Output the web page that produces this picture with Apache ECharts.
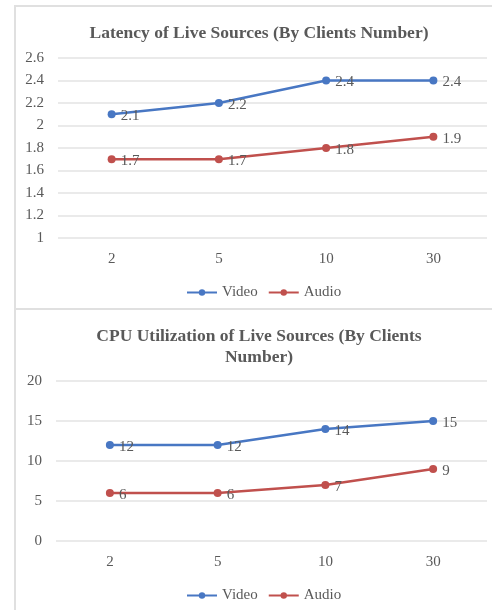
<!DOCTYPE html>
<html>
<head>
<meta charset="utf-8">
<script src="https://cdn.jsdelivr.net/npm/echarts@6/dist/echarts.min.js"></script>
<style>
html,body{margin:0;padding:0;background:#fff;}
#c{width:492px;height:610px;}
</style>
</head>
<body>
<div id="c"></div>
<script>
const categories = ['2', '5', '10', '30'];
const latencyVideo = [2.1, 2.2, 2.4, 2.4];
const latencyAudio = [1.7, 1.7, 1.8, 1.9];
const cpuVideo = [12, 12, 14, 15];
const cpuAudio = [6, 6, 7, 9];
const title1 = 'Latency of Live Sources (By Clients Number)';
const title2 = 'CPU Utilization of Live Sources (By Clients\nNumber)';
const seriesNames = ['Video', 'Audio'];

const FONT = '"Liberation Serif", "DejaVu Serif", serif';
const GRAY = '#595959';
const BLUE = '#4877C3';
const RED = '#C0504D';

const chart = echarts.init(document.getElementById('c'), null, {renderer: 'canvas'});

function lineSeries(name, data, color, xi, yi) {
  return {
    name: name, type: 'line', data: data,
    xAxisIndex: xi, yAxisIndex: yi,
    symbol: 'circle', symbolSize: 8,
    lineStyle: {color: color, width: 2.5},
    itemStyle: {color: color},
    label: {show: true, position: 'right', distance: 5, offset: [0, 2], color: GRAY, fontFamily: FONT, fontSize: 15},
    animation: false
  };
}

const axisLabel = {color: GRAY, fontFamily: FONT, fontSize: 15};
const legendText = {fontFamily: FONT, fontSize: 15, color: GRAY};

chart.setOption({
  animation: false,
  graphic: [
    {type: 'rect', shape: {x: 15, y: 6, width: 600, height: 303}, style: {fill: 'none', stroke: '#e0e0e0', lineWidth: 2}},
    {type: 'rect', shape: {x: 15, y: 309, width: 600, height: 310}, style: {fill: 'none', stroke: '#e0e0e0', lineWidth: 2}}
  ],
  title: [
    {text: title1, left: 254, top: 19, textAlign: 'center',
     textStyle: {fontFamily: FONT, fontSize: 17.5, fontWeight: 'bold', color: GRAY}},
    {text: title2, left: 254, top: 321, textAlign: 'center',
     textStyle: {fontFamily: FONT, fontSize: 17.5, fontWeight: 'bold', color: GRAY, lineHeight: 21}}
  ],
  legend: [
    {data: seriesNames, left: 186, top: 285, itemWidth: 30, itemHeight: 8, itemGap: 10,
     textStyle: legendText, padding: 0},
    {data: seriesNames, left: 186, top: 588, itemWidth: 30, itemHeight: 8, itemGap: 10,
     textStyle: legendText, padding: 0}
  ],
  grid: [
    {left: 58, right: 5, top: 58, height: 180},
    {left: 56, right: 5, top: 381, height: 160}
  ],
  xAxis: [
    {type: 'category', data: categories, gridIndex: 0, boundaryGap: true,
     axisLine: {show: false}, axisTick: {show: false}, axisLabel: Object.assign({margin: 14}, axisLabel)},
    {type: 'category', data: categories, gridIndex: 1, boundaryGap: true,
     axisLine: {show: false}, axisTick: {show: false}, axisLabel: Object.assign({margin: 14}, axisLabel)}
  ],
  yAxis: [
    {type: 'value', gridIndex: 0, min: 1, max: 2.6, interval: 0.2,
     axisLine: {show: false}, axisTick: {show: false},
     axisLabel: Object.assign({margin: 14}, axisLabel),
     splitLine: {lineStyle: {color: '#e3e3e3', width: 1.5}}},
    {type: 'value', gridIndex: 1, min: 0, max: 20, interval: 5,
     axisLine: {show: false}, axisTick: {show: false},
     axisLabel: Object.assign({margin: 14}, axisLabel),
     splitLine: {lineStyle: {color: '#e3e3e3', width: 1.5}}}
  ],
  series: [
    lineSeries(seriesNames[0], latencyVideo, BLUE, 0, 0),
    lineSeries(seriesNames[1], latencyAudio, RED, 0, 0),
    lineSeries(seriesNames[0], cpuVideo, BLUE, 1, 1),
    lineSeries(seriesNames[1], cpuAudio, RED, 1, 1)
  ]
});
</script>
</body>
</html>
